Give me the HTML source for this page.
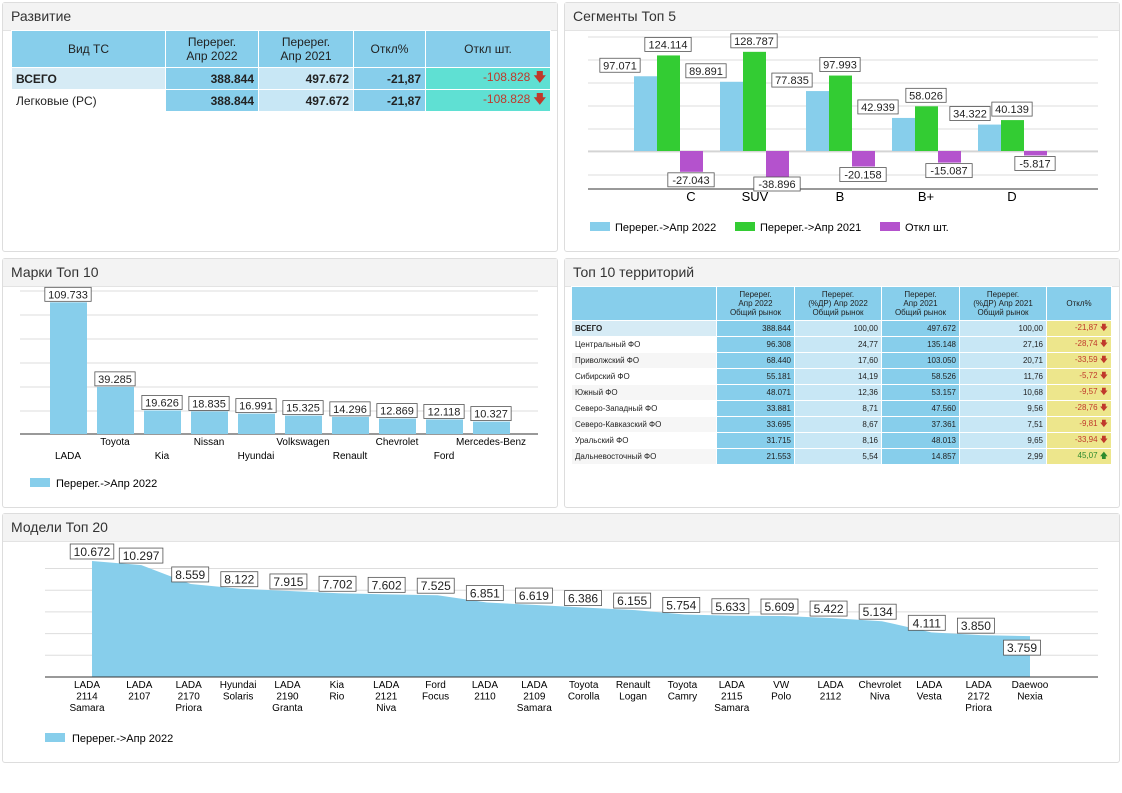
<!DOCTYPE html>
<html><head><meta charset="utf-8"><style>
body{margin:0;width:1122px;height:793px;background:#fff;font-family:"Liberation Sans",sans-serif;position:relative;overflow:hidden}
.p{position:absolute;border:1px solid #ddd;border-radius:3px;background:#fff;box-sizing:border-box}
.h{height:27px;background:#f3f3f3;border-bottom:1px solid #e3e3e3;font-size:14px;color:#333;line-height:27px;padding-left:8px}
table{border-collapse:collapse;position:absolute}
td{border:1px solid #fff;padding:0 4px;font-size:12px;color:#222}
.t2 td{font-size:8px;height:15px;padding:0 3px}
</style></head><body>
<div class="p" style="left:2px;top:2px;width:556px;height:250px"><div class="h">Развитие</div>
<table style="left:8px;top:27px;width:540px">
<tr style="height:37px;background:#87ceeb;text-align:center"><td style="width:145px">Вид ТС</td><td style="width:84px">Перерег.<br>Апр 2022</td><td style="width:86px">Перерег.<br>Апр 2021</td><td style="width:63px">Откл%</td><td>Откл шт.</td></tr>
<tr style="height:21px;font-weight:bold;text-align:right"><td style="background:#d6ebf5;text-align:left">ВСЕГО</td><td style="background:#87ceeb">388.844</td><td style="background:#c8e7f5">497.672</td><td style="background:#87ceeb">-21,87</td><td style="background:#5fe0d3;color:#c0392b;font-weight:normal">-108.828 <b>🡇</b></td></tr>
<tr style="height:21px;text-align:right"><td style="background:#fff;text-align:left">Легковые (PC)</td><td style="background:#87ceeb;font-weight:bold">388.844</td><td style="background:#c8e7f5;font-weight:bold">497.672</td><td style="background:#87ceeb;font-weight:bold">-21,87</td><td style="background:#5fe0d3;color:#c0392b">-108.828 <b>🡇</b></td></tr>
</table></div>

<div class="p" style="left:564px;top:2px;width:556px;height:250px"><div class="h">Сегменты Топ 5</div></div>
<div class="p" style="left:2px;top:258px;width:556px;height:250px"><div class="h">Марки Топ 10</div></div>
<div class="p" style="left:564px;top:258px;width:556px;height:250px"><div class="h">Топ 10 территорий</div>
<table class="t2" style="left:6px;top:27px;width:541px">
<tr style="height:34px;background:#87ceeb;text-align:center"><td style="width:138px"></td><td style="width:71px">Перерег.<br>Апр 2022<br>Общий рынок</td><td style="width:80px">Перерег.<br>(%ДР) Апр 2022<br>Общий рынок</td><td style="width:71px">Перерег.<br>Апр 2021<br>Общий рынок</td><td style="width:80px">Перерег.<br>(%ДР) Апр 2021<br>Общий рынок</td><td>Откл%</td></tr>
</table>
<div id="terr"></div></div>
<div class="p" style="left:2px;top:513px;width:1118px;height:250px"><div class="h">Модели Топ 20</div></div>

<svg width="1122" height="793" style="position:absolute;left:0;top:0" font-family="Liberation Sans" font-size="12">
<g id="seg"></g><g id="mk"></g><g id="md"></g><g id="tr"></g>
</svg>
<script>
const NS="http://www.w3.org/2000/svg";
function el(g,t,a,txt){const e=document.createElementNS(NS,t);for(const k in a)e.setAttribute(k,a[k]);if(txt!==undefined)e.textContent=txt;document.getElementById(g).appendChild(e);return e}
function lab(g,x,y,s,fs){fs=fs||11;const w=s.length*fs*0.55+4;el(g,'rect',{x:x-w/2,y:y-fs,width:w,height:fs+3,fill:'#fff',stroke:'#555','stroke-width':0.8});el(g,'text',{x:x,y:y,'text-anchor':'middle','font-size':fs,fill:'#222'},s)}
// segments
for(let y=37;y<190;y+=23)el('seg','line',{x1:588,x2:1098,y1:y,y2:y,stroke:'#ddd'});
el('seg','line',{x1:588,x2:1098,y1:151,y2:151,stroke:'#ccc'});
el('seg','line',{x1:588,x2:1098,y1:189,y2:189,stroke:'#333'});
const S=[["C",97.071,124.114,-27.043,691],["SUV",89.891,128.787,-38.896,755],["B",77.835,97.993,-20.158,840],["B+",42.939,58.026,-15.087,926],["D",34.322,40.139,-5.817,1012]];
const fmt=v=>v.toFixed(3);
S.forEach((s,i)=>{const x=634+i*86,k=0.77;
el('seg','rect',{x:x,y:151-s[1]*k,width:23,height:s[1]*k,fill:'#87ceeb'});
el('seg','rect',{x:x+23,y:151-s[2]*k,width:23,height:s[2]*k,fill:'#33cc33'});
el('seg','rect',{x:x+46,y:151,width:23,height:-s[3]*k,fill:'#b452cd'});
el('seg','text',{x:s[4],y:201,'text-anchor':'middle','font-size':13},s[0]);});
S.forEach((s,i)=>{const x=634+i*86,k=0.77;
lab('seg',x-14+(i==4?6:0),151-s[1]*k-7,fmt(s[1]));lab('seg',x+34,151-s[2]*k-7,fmt(s[2]));lab('seg',x+57,Math.min(151-s[3]*k+12,188),fmt(s[3]));});
[["#87ceeb","Перерег.->Апр 2022",590],["#33cc33","Перерег.->Апр 2021",735],["#b452cd","Откл шт.",880]].forEach(l=>{el('seg','rect',{x:l[2],y:222,width:20,height:9,fill:l[0]});el('seg','text',{x:l[2]+25,y:231,'font-size':11},l[1])});
// marks
for(let y=291;y<434;y+=24)el('mk','line',{x1:20,x2:538,y1:y,y2:y,stroke:'#ddd'});
el('mk','line',{x1:20,x2:538,y1:434,y2:434,stroke:'#333'});
const M=[["LADA",109.733],["Toyota",39.285],["Kia",19.626],["Nissan",18.835],["Hyundai",16.991],["Volkswagen",15.325],["Renault",14.296],["Chevrolet",12.869],["Ford",12.118],["Mercedes-Benz",10.327]];
M.forEach((m,i)=>{const x=50+i*47,h=m[1]*1.2;el('mk','rect',{x:x,y:434-h,width:37,height:h,fill:'#87ceeb'});lab('mk',x+18,434-h-4,fmt(m[1]));el('mk','text',{x:x+18,y:i%2?445:459,'text-anchor':'middle','font-size':10},m[0]);});
el('mk','rect',{x:30,y:478,width:20,height:9,fill:'#87ceeb'});el('mk','text',{x:56,y:487,'font-size':11},'Перерег.->Апр 2022');
// models
for(let y=677;y>550;y-=21.7)el('md','line',{x1:45,x2:1098,y1:y,y2:y,stroke:'#ddd'});
const D=[["LADA|2114|Samara",10.672],["LADA|2107",10.297],["LADA|2170|Priora",8.559],["Hyundai|Solaris",8.122],["LADA|2190|Granta",7.915],["Kia|Rio",7.702],["LADA|2121|Niva",7.602],["Ford|Focus",7.525],["LADA|2110",6.851],["LADA|2109|Samara",6.619],["Toyota|Corolla",6.386],["Renault|Logan",6.155],["Toyota|Camry",5.754],["LADA|2115|Samara",5.633],["VW|Polo",5.609],["LADA|2112",5.422],["Chevrolet|Niva",5.134],["LADA|Vesta",4.111],["LADA|2172|Priora",3.850],["Daewoo|Nexia",3.759]];
const xs=i=>92+i*(1030-92)/19;
let p="M92,677 ";D.forEach((d,i)=>p+="L"+xs(i)+","+(677-d[1]*10.87)+" ");p+="L1030,677Z";
el('md','path',{d:p,fill:'#87ceeb'});
el('md','line',{x1:45,x2:1098,y1:677,y2:677,stroke:'#333'});
D.forEach((d,i)=>{const x=i==0?87:xs(i)-5*(i/19)+ (i==19?5:0);lab('md',i==19?1022:(i==0?92:x),677-d[1]*10.87-(i==19?-16:5),d[1].toFixed(3),12);
d[0].split('|').forEach((t,j)=>el('md','text',{x:i==0?87:(i==19?1030:xs(i)-2),y:688+j*11.5,'text-anchor':'middle','font-size':10},t));});
el('md','rect',{x:45,y:733,width:20,height:9,fill:'#87ceeb'});el('md','text',{x:72,y:742,'font-size':11},'Перерег.->Апр 2022');
// territories
const T=[["ВСЕГО","388.844","100,00","497.672","100,00","-21,87",1],["Центральный ФО","96.308","24,77","135.148","27,16","-28,74",1],["Приволжский ФО","68.440","17,60","103.050","20,71","-33,59",1],["Сибирский ФО","55.181","14,19","58.526","11,76","-5,72",1],["Южный ФО","48.071","12,36","53.157","10,68","-9,57",1],["Северо-Западный ФО","33.881","8,71","47.560","9,56","-28,76",1],["Северо-Кавказский ФО","33.695","8,67","37.361","7,51","-9,81",1],["Уральский ФО","31.715","8,16","48.013","9,65","-33,94",1],["Дальневосточный ФО","21.553","5,54","14.857","2,99","45,07",0]];
const tb=document.querySelector('.t2');
T.forEach((r,i)=>{const tr=document.createElement('tr');tr.innerHTML=`<td style="background:${i==0?'#d6ebf5':(i%2?'#fff':'#f6f6f6')};${i==0?'font-weight:bold':''}">${r[0]}</td><td style="background:#87ceeb;text-align:right">${r[1]}</td><td style="background:#c8e7f5;text-align:right">${r[2]}</td><td style="background:#87ceeb;text-align:right">${r[3]}</td><td style="background:#c8e7f5;text-align:right">${r[4]}</td><td style="background:#ede68c;text-align:right;color:${r[6]?'#c0392b':'#2e8b2e'}">${r[5]} ${r[6]?'🡇':'🡅'}</td>`;tb.appendChild(tr);});
</script>
</body></html>
